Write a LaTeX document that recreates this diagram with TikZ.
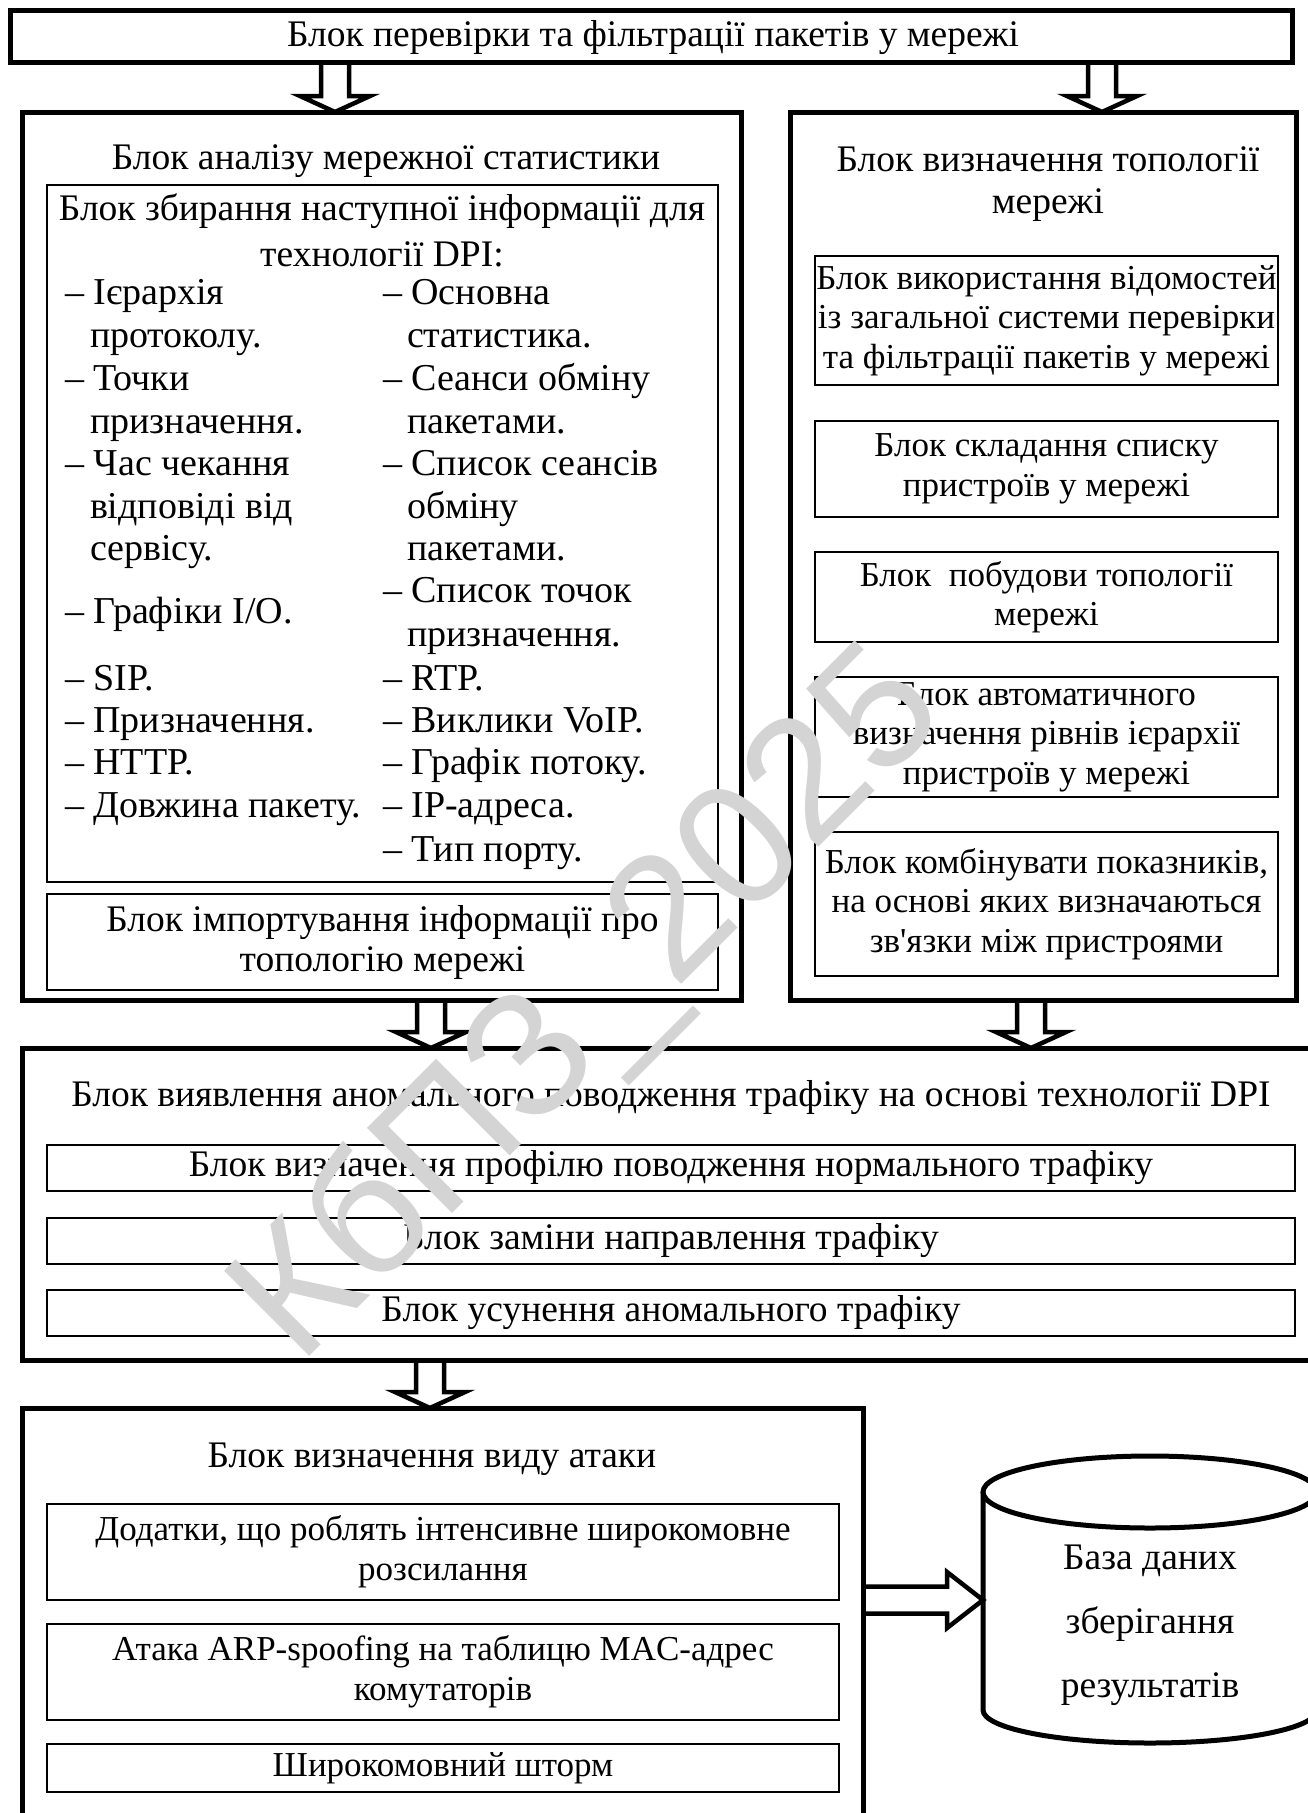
\documentclass[tikz,border=0pt]{standalone}
\usepackage{fontspec}
\setmainfont{Liberation Serif}
\newfontfamily\wmfont{Liberation Sans}
\usetikzlibrary{calc}
\newcommand\downfat[2]{%
  \coordinate (#1t) at (#1 |- #2.north);
  \draw[fatarrow] ($(#1)+(-14,0)$) -- ($(#1t)+(-14,-16)$) -- ($(#1t)+(-35,-16)$) -- (#1t)
     -- ($(#1t)+(35,-16)$) -- ($(#1t)+(14,-16)$) -- ($(#1)+(14,0)$);}
\begin{document}
\begin{tikzpicture}[x=1pt,y=-1pt,
  every node/.style={inner sep=0pt, outer sep=0pt},
  rect/.style args={#1/#2/#3/#4}{at={({(#1+#3)/2},{(#2+#4)/2})}, minimum width={#3-#1}, minimum height={#4-#2}},
  txt/.style={font=\fontsize{37.5}{42.5}\selectfont, align=center},
  txtb/.style={font=\fontsize{37.5}{39.5}\selectfont, align=center},
  txts/.style={font=\fontsize{35}{39.5}\selectfont, align=center},
  bigbox/.style={draw, line width=5pt},
  smallbox/.style={draw, line width=2pt, txtb},
  fatarrow/.style={draw, line width=4.5pt, line join=miter},
  cyl/.style={draw, line width=5pt},
  li/.style={font=\fontsize{38}{42.5}\selectfont, anchor=mid west},
  wm/.style={text=black!17, font=\wmfont\fontsize{175}{175}\selectfont, rotate=45},
]
\useasboundingbox (0,0) rectangle (1308,1813);
\fill[white] (0,0) rectangle (1308,1813);
\clip (0,0) rectangle (1308,1813);

% top block
\node[bigbox, rect=10/10/1292/62] (top) {};
\node[txt] (toptxt) at (653,38) {Блок перевірки та фільтрації пакетів у мережі};

% left block
\node[bigbox, rect=22/112/741/1000] (lbox) {};
\node[txt] (ltitle) at (386,161) {Блок аналізу мережної статистики};
\node[smallbox, rect=47/185/718/882] (collect) {};
\node[txt] (c1) at (382,211) {Блок збирання наступної інформації для};
\node[txt] (c2) at (382,254) {технології DPI:};
\node[li] (l1) at (65,302) {– Ієрархія};
\node[li] (l2) at (90,345) {протоколу.};
\node[li] (l3) at (65,388) {– Точки};
\node[li] (l4) at (90,431) {призначення.};
\node[li] (l5) at (65,473) {– Час чекання};
\node[li] (l6) at (90,516) {відповіді від};
\node[li] (l7) at (90,558) {сервісу.};
\node[li] (l8) at (65,621) {– Графіки I/O.};
\node[li] (l9) at (65,688) {– SIP.};
\node[li] (l10) at (65,730) {– Призначення.};
\node[li] (l11) at (65,772) {– HTTP.};
\node[li] (l12) at (65,815) {– Довжина пакету.};
\node[li] (r1) at (383,302) {– Основна};
\node[li] (r2) at (407,345) {статистика.};
\node[li] (r3) at (383,388) {– Сеанси обміну};
\node[li] (r4) at (407,431) {пакетами.};
\node[li] (r5) at (383,473) {– Список сеансів};
\node[li] (r6) at (407,516) {обміну};
\node[li] (r7) at (407,558) {пакетами.};
\node[li] (r8) at (383,600) {– Список точок};
\node[li] (r9) at (407,644) {призначення.};
\node[li] (r10) at (383,688) {– RTP.};
\node[li] (r11) at (383,730) {– Виклики VoIP.};
\node[li] (r12) at (383,772) {– Графік потоку.};
\node[li] (r13) at (383,815) {– IP-адреса.};
\node[li] (r14) at (383,859) {– Тип порту.};
\node[smallbox, font=\fontsize{37.5}{40}\selectfont, rect=47/894/718/990] (import) {Блок імпортування інформації про\\топологію мережі};

% right block
\node[bigbox, rect=790/112/1296/1000] (rbox) {};
\node[txt, font=\fontsize{37.5}{42}\selectfont] (rtitle) at (1048,184) {Блок визначення топології\\мережі};
\node[smallbox, txts, rect=815/256/1278/385] (rb1) {Блок використання відомостей\\із загальної системи перевірки\\та фільтрації пакетів у мережі};
\node[smallbox, txts, rect=815/421/1278/517] (rb2) {Блок складання списку\\пристроїв у мережі};
\node[smallbox, txts, rect=815/552/1278/642] (rb3) {Блок\ \ побудови топології\\мережі};
\node[smallbox, txts, rect=815/677/1278/797] (rb4) {Блок автоматичного\\визначення рівнів ієрархії\\пристроїв у мережі};
\node[smallbox, txts, rect=815/832/1278/976] (rb5) {Блок комбінувати показників,\\на основі яких визначаються\\зв\textquotesingle язки між пристроями};

% DPI block
\node[bigbox, rect=22/1048/1330/1360] (dpi) {};
\node[txt] (dtitle) at (671,1098) {Блок виявлення аномального поводження трафіку на основі технології DPI};
\node[smallbox, rect=47/1145/1295/1191] (d1) {Блок визначення профілю поводження нормального трафіку};
\node[smallbox, rect=47/1218/1295/1264] (d2) {Блок заміни направлення трафіку};
\node[smallbox, rect=47/1290/1295/1336] (d3) {Блок усунення аномального трафіку};

% attack block
\node[bigbox, rect=22/1408/863/1850] (attack) {};
\node[txt] (atitle) at (432,1459) {Блок визначення виду атаки};
\node[smallbox, font=\fontsize{35}{40}\selectfont, rect=47/1504/839/1600] (b1) {Додатки, що роблять інтенсивне широкомовне\\розсилання};
\node[smallbox, font=\fontsize{35}{40}\selectfont, rect=47/1624/839/1720] (b2) {Атака ARP-spoofing на таблицю MAC-адрес\\комутаторів};
\node[smallbox, txts, rect=47/1744/839/1792] (b3) {Широкомовний шторм};

% database cylinder
\node[minimum width=334pt, minimum height=286pt] (db) at (1150,1600) {};
\draw[cyl] (983,1492) -- (983,1710) arc[start angle=180, end angle=0, x radius=167, y radius=33] -- (1317,1492);
\draw[cyl] (1150,1492) ellipse [x radius=167, y radius=36];
\node[txt, font=\fontsize{37.5}{64}\selectfont] (dbtxt) at (1150,1625) {База даних\\зберігання\\результатів};

% fat arrows
\path (top.south west) ++(325,0) coordinate (a1);
\path (top.south west) ++(1092,0) coordinate (a2);
\path (lbox.south west) ++(409,0) coordinate (a3);
\path (rbox.south west) ++(241,0) coordinate (a4);
\path (dpi.south west) ++(408,0) coordinate (a5);
\downfat{a1}{lbox}
\downfat{a2}{rbox}
\downfat{a3}{dpi}
\downfat{a4}{dpi}
\downfat{a5}{attack}
\coordinate (h1) at (attack.east |- db.west);
\draw[fatarrow] ($(h1)+(0,-13.5)$) -- ($(db.west)+(-36,-13.5)$) -- ($(db.west)+(-36,-28)$) -- (db.west)
   -- ($(db.west)+(-36,28)$) -- ($(db.west)+(-36,13.5)$) -- ($(h1)+(0,13.5)$);

% watermark
\node[wm] (wmark) at (592,1008) {КбПЗ\_2025};
\end{tikzpicture}
\end{document}
